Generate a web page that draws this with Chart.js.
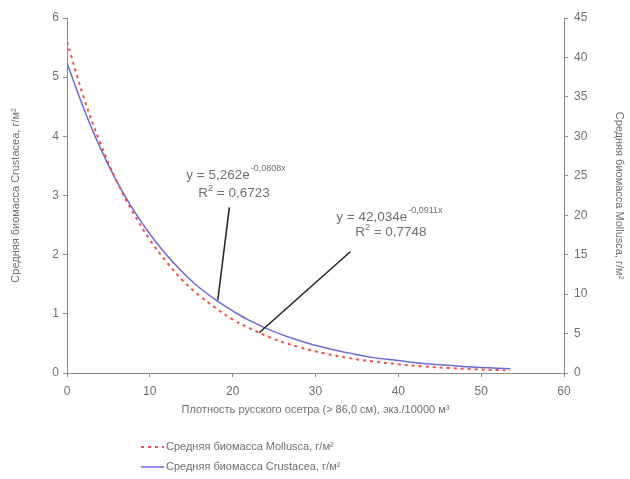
<!DOCTYPE html>
<html><head><meta charset="utf-8">
<script src="https://cdn.jsdelivr.net/npm/chart.js@4/dist/chart.umd.min.js"></script>
<style>html,body{margin:0;padding:0;background:#fff}#wrap{width:630px;height:479px}</style>
</head><body><div id="wrap"><canvas id="c" width="630" height="479"></canvas></div>
<script>
const xValues = [0,2,4,6,8,10,12,14,16,18,20,22,25,28,31,34,37,40,43,46,49,52,53.5];
const crustacea = [5.24,4.48,3.81,3.24,2.76,2.35,2.00,1.70,1.44,1.23,1.05,0.89,0.70,0.55,0.43,0.34,0.26,0.21,0.16,0.13,0.10,0.08,0.07];
const mollusca = [42.0,35.0,29.2,24.3,20.3,16.9,14.1,11.7,9.8,8.2,6.8,5.7,4.3,3.3,2.5,1.9,1.45,1.10,0.84,0.64,0.48,0.37,0.32];
const seriesNames = ['Средняя биомасса Mollusca, г/м²','Средняя биомасса Crustacea, г/м²'];
const xTitle = 'Плотность русского осетра (> 86,0 см), экз./10000 м³';
const yTitle = 'Средняя биомасса Crustacea, г/м²';
const y2Title = 'Средняя биомасса Mollusca, г/м²';
const eq1 = ['y = 5,262e', '-0,0808x', 'R', '2', ' = 0,6723'];
const eq2 = ['y = 42,034e', '-0,0911x', 'R', '2', ' = 0,7748'];

const FONT = '"Liberation Sans", Arial, sans-serif';
const TXT = '#6f6f6f';
const RED = '#f0504a';
const BLUE = '#6b6bd6';

const annot = {
  id:'annot',
  afterDatasetsDraw(chart){
    const ctx = chart.ctx, xs = chart.scales.x, ys = chart.scales.y;
    const P = (x,y)=>[xs.getPixelForValue(x), ys.getPixelForValue(y)];
    ctx.save();
    ctx.fillStyle = TXT;
    ctx.textBaseline = 'middle';
    const F = '13.5px '+FONT, S = '9px '+FONT;
    function eq(parts, cx, cy, cx2, cy2){
      const [px,py] = P(cx,cy);
      ctx.font = F;
      const w1 = ctx.measureText(parts[0]).width;
      ctx.font = S;
      const w2 = ctx.measureText(parts[1]).width;
      let sx = px - (w1+w2)/2;
      ctx.font = F; ctx.textAlign='left';
      ctx.fillText(parts[0], sx, py);
      ctx.font = S;
      ctx.fillText(parts[1], sx+w1+1, py-6);
      const [qx,qy] = P(cx2,cy2);
      ctx.font = F;
      const r1 = ctx.measureText(parts[2]).width;
      const r3 = ctx.measureText(parts[4]).width;
      ctx.font = S;
      const r2 = ctx.measureText(parts[3]).width;
      let rx = qx - (r1+r2+r3)/2;
      ctx.font = F;
      ctx.fillText(parts[2], rx, qy);
      ctx.font = S;
      ctx.fillText(parts[3], rx+r1, qy-5);
      ctx.font = F;
      ctx.fillText(parts[4], rx+r1+r2, qy);
    }
    eq(eq1, 20.34, 3.35, 20.16, 3.04);
    eq(eq2, 38.87, 2.64, 39.1, 2.37);
    ctx.strokeStyle = '#222'; ctx.lineWidth = 1.5;
    function line(a,b,c,d){const [x1,y1]=P(a,b),[x2,y2]=P(c,d);ctx.beginPath();ctx.moveTo(x1,y1);ctx.lineTo(x2,y2);ctx.stroke();}
    line(19.6, 2.8, 18.2, 1.23);
    line(34.2, 2.05, 23.2, 0.68);
    // legend
    const items = [{c:RED,d:[3,4],t:seriesNames[0]},{c:BLUE,d:[],t:seriesNames[1]}];
    ctx.font = '11px '+FONT; ctx.textAlign='left';
    items.forEach((it,i)=>{
      const y = 447 + i*20;
      ctx.strokeStyle = it.c; ctx.lineWidth = it.d.length?2:1.5; ctx.setLineDash(it.d);
      ctx.beginPath(); ctx.moveTo(141,y); ctx.lineTo(164,y); ctx.stroke();
      ctx.setLineDash([]);
      ctx.fillStyle = TXT; ctx.fillText(it.t, 166, y);
    });
    ctx.restore();
  }
};

const axisCommon = {
  grid:{display:true, drawOnChartArea:false, drawTicks:true, tickLength:4, color:'#8a8a8a'},
  border:{color:'#8a8a8a', width:1},
  ticks:{color:TXT, font:{family:FONT, size:12}, padding:4}
};

new Chart(document.getElementById('c'), {
  type:'line',
  data:{
    datasets:[
      {label:seriesNames[0], data:xValues.map((x,i)=>({x, y:mollusca[i]})), yAxisID:'y2',
       borderColor:RED, borderWidth:2, borderDash:[3,4], pointRadius:0, tension:0.4, fill:false},
      {label:seriesNames[1], data:xValues.map((x,i)=>({x, y:crustacea[i]})), yAxisID:'y',
       borderColor:BLUE, borderWidth:1.5, pointRadius:0, tension:0.4, fill:false}
    ]
  },
  options:{
    responsive:false, animation:false,
    layout:{padding:{top:18, left:0, right:0, bottom:62}},
    plugins:{legend:{display:false}, tooltip:{enabled:false}},
    scales:{
      x:{type:'linear', min:0, max:60, ...axisCommon,
         ticks:{...axisCommon.ticks, stepSize:10, padding:7},
         title:{display:true, text:xTitle, color:TXT, font:{family:FONT,size:11}, padding:{top:2, bottom:0}},
         afterFit(s){s.height=44;}},
      y:{type:'linear', position:'left', min:0, max:6, ...axisCommon,
         ticks:{...axisCommon.ticks, stepSize:1},
         title:{display:true, text:yTitle, color:TXT, font:{family:FONT,size:11}, padding:{top:9, bottom:4}},
         afterFit(s){s.width=67;}},
      y2:{type:'linear', position:'right', min:0, max:45, ...axisCommon,
         ticks:{...axisCommon.ticks, stepSize:5, padding:6},
         title:{display:true, text:y2Title, color:TXT, font:{family:FONT,size:11}, padding:{top:4, bottom:4}},
         afterFit(s){s.width=66;}}
    }
  },
  plugins:[annot]
});
</script></body></html>
